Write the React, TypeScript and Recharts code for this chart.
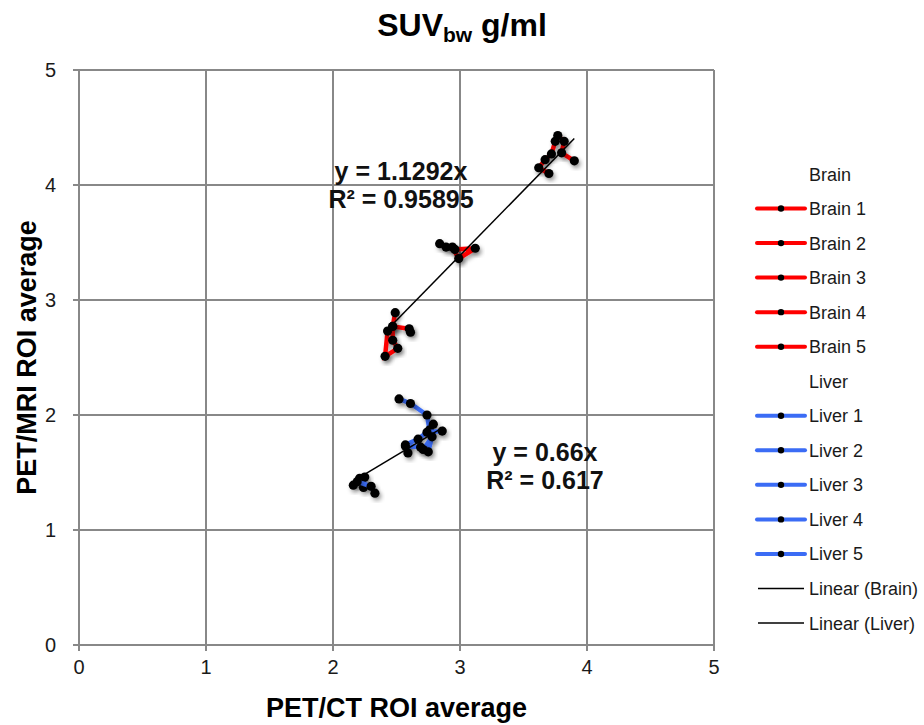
import React from 'react';
import { ScatterChart, Scatter, XAxis, YAxis, CartesianGrid, Legend } from 'recharts';

// ---- data (PET/CT x, PET/MRI y) ----
const brain1: [number, number][] = [[3.77, 4.43], [3.82, 4.38], [3.8, 4.28], [3.9, 4.21]];
const brain2: [number, number][] = [[3.75, 4.38], [3.72, 4.27], [3.67, 4.22], [3.62, 4.15], [3.7, 4.1]];
const brain3: [number, number][] = [[2.84, 3.49], [2.89, 3.46], [2.94, 3.46], [2.99, 3.36], [3.12, 3.45], [2.96, 3.44]];
const brain4: [number, number][] = [[2.49, 2.89], [2.47, 2.77], [2.6, 2.75], [2.61, 2.72]];
const brain5: [number, number][] = [[2.43, 2.73], [2.41, 2.51], [2.51, 2.58], [2.47, 2.65], [2.47, 2.77]];

const liver1: [number, number][] = [[2.52, 2.14], [2.61, 2.1], [2.74, 2.0], [2.76, 1.87], [2.79, 1.92]];
const liver2: [number, number][] = [[2.57, 1.74], [2.67, 1.79], [2.74, 1.85], [2.86, 1.86]];
const liver3: [number, number][] = [[2.59, 1.67], [2.57, 1.73], [2.69, 1.72], [2.71, 1.7], [2.78, 1.81], [2.75, 1.68]];
const liver4: [number, number][] = [[2.16, 1.39], [2.21, 1.45], [2.25, 1.46], [2.24, 1.37]];
const liver5: [number, number][] = [[2.19, 1.42], [2.3, 1.38], [2.33, 1.32]];

const brainNames = ['Brain 1', 'Brain 2', 'Brain 3', 'Brain 4', 'Brain 5'];
const liverNames = ['Liver 1', 'Liver 2', 'Liver 3', 'Liver 4', 'Liver 5'];
const brainSeries = [brain1, brain2, brain3, brain4, brain5];
const liverSeries = [liver1, liver2, liver3, liver4, liver5];

// linear trend (through origin): slope and x range
const brainSlope = 1.1292;
const brainR2 = '0.95895';
const brainTrendRange = [2.47, 3.9];
const liverSlope = 0.66;
const liverR2 = '0.617';
const liverTrendRange = [2.16, 2.87];

const axisTicks = [0, 1, 2, 3, 4, 5];

const FONT = '"Liberation Sans", Arial, Helvetica, sans-serif';
const RED = '#ff0000';
const BLUE = '#3b6cf5';
const GRID = '#888888';

const toPts = (arr: [number, number][]) => arr.map(([x, y]) => ({ x, y }));
const trendPts = (range: number[], slope: number) => range.map((x) => ({ x, y: slope * x }));

const DotShape = (props: any) => {
  const { cx, cy } = props;
  if (cx == null || cy == null) return <g />;
  return <circle cx={cx} cy={cy} r={4.6} fill="#000" filter="url(#dshadow)" />;
};
const NoShape = () => <g />;

const legendRows = [
  { label: 'Brain', kind: 'header' },
  ...brainNames.map((n) => ({ label: n, kind: 'brain' })),
  { label: 'Liver', kind: 'header' },
  ...liverNames.map((n) => ({ label: n, kind: 'liver' })),
  { label: 'Linear (Brain)', kind: 'trend' },
  { label: 'Linear (Liver)', kind: 'trend' },
];

const ROW = 34.54;
const renderLegend = () => (
  <svg width={184} height={legendRows.length * ROW + 4} style={{ display: 'block' }}>
    {legendRows.map((r, i) => {
      const cy = 17 + i * ROW;
      return (
        <g key={r.label}>
          {r.kind === 'brain' || r.kind === 'liver' ? (
            <g>
              <line x1={17} x2={65} y1={cy} y2={cy} stroke={r.kind === 'brain' ? RED : BLUE} strokeWidth={4} strokeLinecap="round" />
              <circle cx={41} cy={cy} r={3.2} fill="#000" />
            </g>
          ) : null}
          {r.kind === 'trend' ? <line x1={18} x2={64} y1={cy} y2={cy} stroke="#000" strokeWidth={1.3} /> : null}
          <text x={69} y={cy + 6.5} fontSize={18} fontFamily={FONT} fill="#1a1a1a">
            {r.label}
          </text>
        </g>
      );
    })}
  </svg>
);

export default function App() {
  return (
    <div style={{ position: 'absolute', left: 0, top: 0, width: 924, height: 725, background: '#fff', fontFamily: FONT }}>
      <ScatterChart width={924} height={725} margin={{ top: 70, right: 210, bottom: 0, left: 0 }}>
        <defs>
          <filter id="dshadow" x="-50%" y="-50%" width="200%" height="200%">
            <feDropShadow dx={2} dy={3} stdDeviation={2} floodColor="#000" floodOpacity={0.35} />
          </filter>
        </defs>
        <CartesianGrid stroke={GRID} strokeWidth={2} />
        <XAxis
          type="number"
          dataKey="x"
          domain={[0, 5]}
          ticks={axisTicks}
          height={80}
          tickSize={6}
          tickMargin={9}
          tick={{ fill: '#1a1a1a', fontSize: 20, fontFamily: FONT }}
          tickLine={{ stroke: GRID, strokeWidth: 2 }}
          axisLine={{ stroke: GRID, strokeWidth: 2 }}
          interval={0}
          allowDataOverflow
          label={{
            content: (p: any) => {
              const vb = p.viewBox || { x: 79, width: 635, y: 645 };
              return (
                <text x={vb.x + vb.width / 2} y={vb.y + 72} textAnchor="middle" fontSize={27} fontWeight="bold" fontFamily={FONT} fill="#000">
                  PET/CT ROI average
                </text>
              );
            },
          }}
        />
        <YAxis
          type="number"
          dataKey="y"
          domain={[0, 5]}
          ticks={axisTicks}
          width={79}
          tickSize={6}
          tickMargin={17}
          tick={{ fill: '#1a1a1a', fontSize: 20, fontFamily: FONT }}
          tickLine={{ stroke: GRID, strokeWidth: 2 }}
          axisLine={{ stroke: GRID, strokeWidth: 2 }}
          interval={0}
          allowDataOverflow
          label={{
            content: (p: any) => {
              const vb = p.viewBox || { x: 0, y: 70, height: 575 };
              const cy = vb.y + vb.height / 2;
              return (
                <text x={36} y={cy} transform={`rotate(-90 36 ${cy})`} textAnchor="middle" fontSize={27} fontWeight="bold" fontFamily={FONT} fill="#000">
                  PET/MRI ROI average
                </text>
              );
            },
          }}
        />
        <Legend
          layout="vertical"
          align="center"
          verticalAlign="middle"
          content={renderLegend}
          wrapperStyle={{ position: 'absolute', left: 740, top: 157, width: 184 }}
        />
        {brainSeries.map((s, i) => (
          <Scatter
            key={brainNames[i]}
            name={brainNames[i]}
            data={toPts(s)}
            fill="#000"
            line={{ stroke: RED, strokeWidth: 4.5, filter: 'url(#dshadow)' } as any}
            lineJointType="linear"
            shape={DotShape}
            isAnimationActive={false}
          />
        ))}
        {liverSeries.map((s, i) => (
          <Scatter
            key={liverNames[i]}
            name={liverNames[i]}
            data={toPts(s)}
            fill="#000"
            line={{ stroke: BLUE, strokeWidth: 4.5, filter: 'url(#dshadow)' } as any}
            lineJointType="linear"
            shape={DotShape}
            isAnimationActive={false}
          />
        ))}
        <Scatter
          name="Linear (Brain)"
          data={trendPts(brainTrendRange, brainSlope)}
          line={{ stroke: '#000', strokeWidth: 1.5 }}
          shape={NoShape}
          isAnimationActive={false}
        />
        <Scatter
          name="Linear (Liver)"
          data={trendPts(liverTrendRange, liverSlope)}
          line={{ stroke: '#000', strokeWidth: 1.5 }}
          shape={NoShape}
          isAnimationActive={false}
        />
      </ScatterChart>
      <svg width={924} height={725} style={{ position: 'absolute', left: 0, top: 0, pointerEvents: 'none' }}>
        <text x={462} y={36} textAnchor="middle" fontSize={32} fontWeight="bold" fontFamily={FONT} fill="#000">
          SUV
          <tspan fontSize={21} dy={6}>bw</tspan>
          <tspan dy={-6}> g/ml</tspan>
        </text>
        <text x={401} y={180} textAnchor="middle" fontSize={25} fontWeight="bold" fontFamily={FONT} fill="#111">
          {`y = ${brainSlope}x`}
        </text>
        <text x={401} y={208} textAnchor="middle" fontSize={25} fontWeight="bold" fontFamily={FONT} fill="#111">
          {`R² = ${brainR2}`}
        </text>
        <text x={545} y={461} textAnchor="middle" fontSize={25} fontWeight="bold" fontFamily={FONT} fill="#111">
          {`y = ${liverSlope}x`}
        </text>
        <text x={545} y={489} textAnchor="middle" fontSize={25} fontWeight="bold" fontFamily={FONT} fill="#111">
          {`R² = ${liverR2}`}
        </text>
      </svg>
    </div>
  );
}
